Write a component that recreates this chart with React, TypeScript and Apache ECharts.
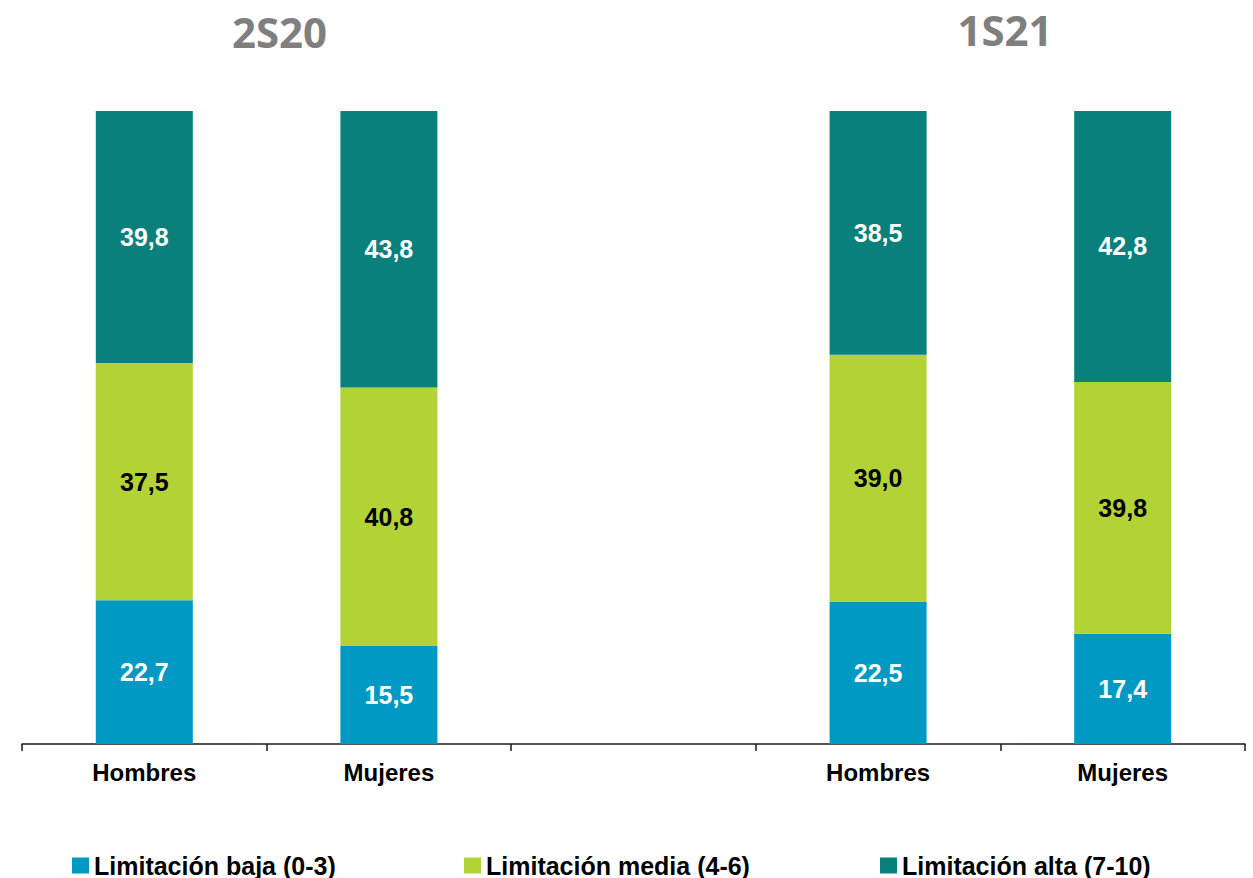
import React, { useEffect, useRef } from "react";
import * as echarts from "echarts";

const categories = ["Hombres", "Mujeres", "", "Hombres", "Mujeres"];
const periodTitles = ["2S20", "1S21"];
const seriesNames = ["Limitación baja (0-3)", "Limitación media (4-6)", "Limitación alta (7-10)"];
const baja = [22.7, 15.5, null, 22.5, 17.4];
const media = [37.5, 40.8, null, 39.0, 39.8];
const alta = [39.8, 43.8, null, 38.5, 42.8];
const colors = ["#0099C4", "#B2D235", "#0A807C"];
const labelColors = ["#FFFFFF", "#000000", "#FFFFFF"];

const FONT = "'Liberation Sans', Arial, sans-serif";

export default function App() {
  const ref = useRef<HTMLDivElement>(null);
  useEffect(() => {
    if (!ref.current) return;
    const chart = echarts.init(ref.current, null, { renderer: "svg" });
    const seriesData = [baja, media, alta];
    const fmt = (p: any) => (p.value == null ? "" : Number(p.value).toFixed(1).replace(".", ","));
    const legendLefts = [72, 464, 880];
    chart.setOption({
      animation: false,
      backgroundColor: "#FFFFFF",
      grid: { left: 22, right: 8, top: 111, bottom: 134, containLabel: false },
      xAxis: {
        type: "category",
        data: categories,
        axisLine: { show: true, lineStyle: { color: "#1A1A1A", width: 1.5 } },
        axisTick: { show: true, alignWithLabel: false, length: 7, lineStyle: { color: "#1A1A1A", width: 1.5 } },
        axisLabel: {
          show: true,
          interval: 0,
          margin: 16,
          fontFamily: FONT,
          fontWeight: "bold",
          fontSize: 24,
          color: "#000000",
        },
      },
      yAxis: { type: "value", min: 0, max: 100, show: false, splitLine: { show: false } },
      legend: seriesNames.map((n, i) => ({
        data: [n],
        left: legendLefts[i],
        top: 853,
        itemWidth: 17,
        itemHeight: 16,
        icon: "rect",
        padding: 0,
        textStyle: { fontFamily: FONT, fontWeight: "bold", fontSize: 25, color: "#000000", lineHeight: 24 },
      })),
      graphic: periodTitles.map((t, i) => ({
        type: "text",
        x: i === 0 ? 279.5 : 1005,
        y: i === 0 ? 31 : 29.5,
        style: {
          text: t,
          font: "bold 42px 'Open Sans', sans-serif",
          lineHeight: 36,
          fill: "#7F7F7F",
          textAlign: "center",
          textVerticalAlign: "middle",
        },
      })),
      series: seriesNames.map((n, i) => ({
        name: n,
        type: "bar",
        stack: "total",
        barWidth: 97,
        data: seriesData[i],
        itemStyle: { color: colors[i] },
        label: {
          show: true,
          position: "inside",
          formatter: fmt,
          fontFamily: FONT,
          fontWeight: "bold",
          fontSize: 25,
          color: labelColors[i],
        },
      })),
    });
    return () => chart.dispose();
  }, []);
  return (
    <div
      ref={ref}
      style={{ position: "fixed", left: 0, top: 0, width: 1253, height: 878, background: "#fff" }}
    />
  );
}
